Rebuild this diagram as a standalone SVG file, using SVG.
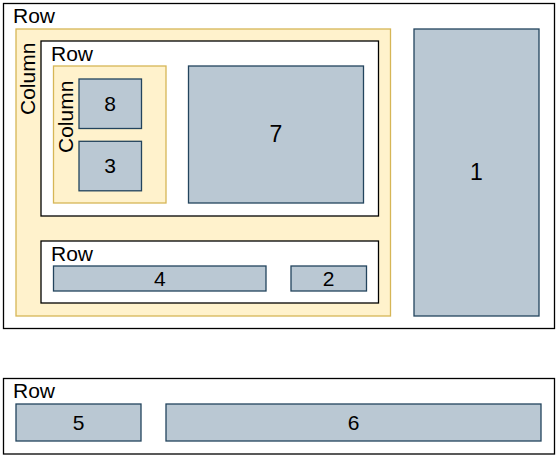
<svg xmlns="http://www.w3.org/2000/svg" width="558" height="458" viewBox="0 0 558 458">
<style>
.row{fill:#ffffff;stroke:#000000;stroke-width:1.3}
.col{fill:#fff2cc;stroke:#d6b656;stroke-width:1.3}
.box{fill:#bac8d3;stroke:#23445d;stroke-width:1.3}
.lbl{font-family:"Liberation Sans",Arial,sans-serif;font-size:21px;fill:#000000}
.num{font-family:"Liberation Sans",Arial,sans-serif;font-size:21px;fill:#000000;text-anchor:middle;dominant-baseline:central}
.big{font-size:23px}
</style>
<g id="row-outer"><rect class="row" x="3.5" y="3.5" width="551" height="325"/><text class="lbl" x="13" y="22.5">Row</text></g>
<g id="column-outer"><rect class="col" x="16" y="29" width="374.5" height="287"/><text class="lbl" transform="translate(35,115) rotate(-90)">Column</text></g>
<g id="row-inner-top"><rect class="row" x="41" y="41" width="337.5" height="175"/><text class="lbl" x="51" y="60.5">Row</text></g>
<g id="column-inner"><rect class="col" x="53.5" y="66" width="112.5" height="137"/><text class="lbl" transform="translate(72.5,153) rotate(-90)">Column</text></g>
<g id="node-8"><rect class="box" x="79" y="79" width="62.5" height="49.5"/><text class="num" x="110.2" y="103">8</text></g>
<g id="node-3"><rect class="box" x="79" y="141.3" width="62.5" height="49.5"/><text class="num" x="110.2" y="165">3</text></g>
<g id="node-7"><rect class="box" x="188.5" y="66" width="175" height="137"/><text class="num big" x="276" y="133.8">7</text></g>
<g id="node-1"><rect class="box" x="414" y="29" width="125" height="287"/><text class="num big" x="476.5" y="171.8">1</text></g>
<g id="row-inner-bottom"><rect class="row" x="41" y="241" width="337.5" height="62"/><text class="lbl" x="51" y="260.5">Row</text></g>
<g id="node-4"><rect class="box" x="53.5" y="266" width="212.5" height="25"/><text class="num" x="159.8" y="278">4</text></g>
<g id="node-2"><rect class="box" x="291" y="266" width="75.5" height="25"/><text class="num" x="328.7" y="278">2</text></g>
<g id="row-bottom"><rect class="row" x="3.5" y="378.5" width="551" height="75.5"/><text class="lbl" x="13" y="398">Row</text></g>
<g id="node-5"><rect class="box" x="16" y="404" width="125" height="37"/><text class="num" x="78.5" y="422">5</text></g>
<g id="node-6"><rect class="box" x="166" y="404" width="375" height="37"/><text class="num" x="353.5" y="422">6</text></g>
<g id="connectors"/>
</svg>
